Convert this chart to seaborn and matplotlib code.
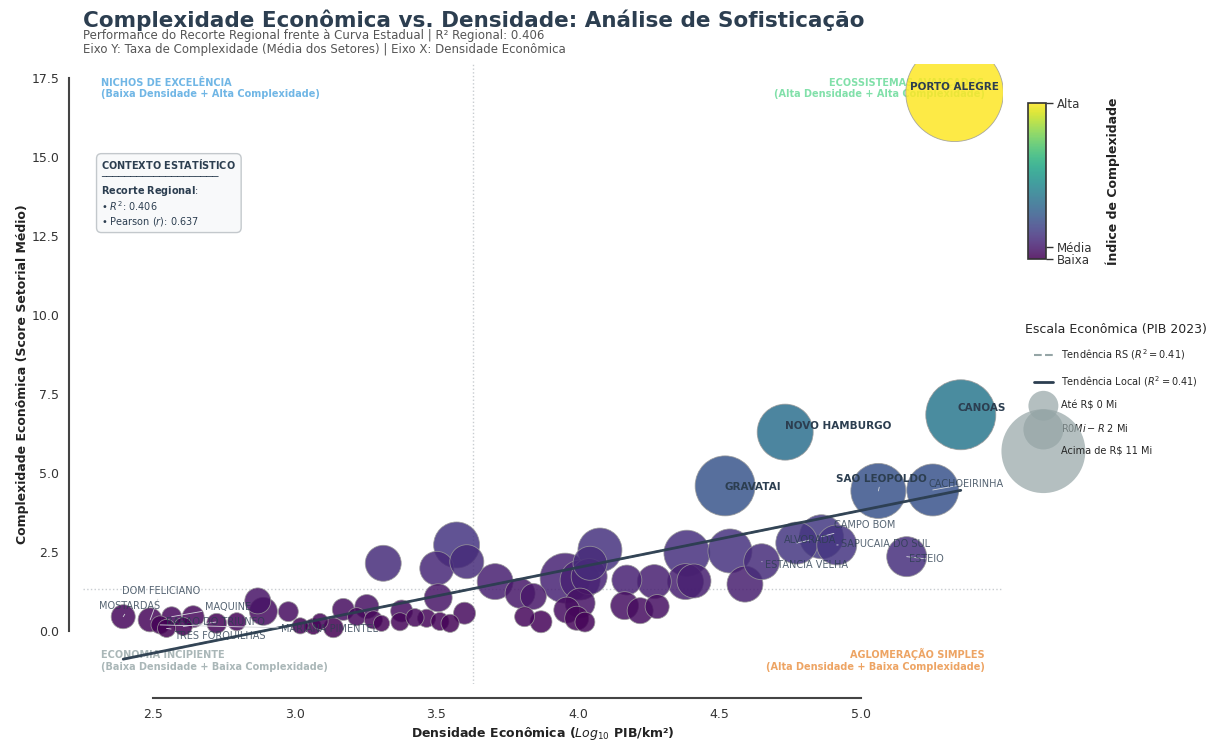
import numpy as np
import pandas as pd
import matplotlib
matplotlib.use("Agg")
import matplotlib.pyplot as plt
import seaborn as sns
from matplotlib.lines import Line2D
from matplotlib.colors import Normalize
import matplotlib.cm as cm

# ---------------- data ----------------
municipios = [
    "MOSTARDAS", "DOM FELICIANO", "MARIANA PIMENTEL", "MAQUINE", "TRES FORQUILHAS", "", "BARAO DO TRIUNFO",
    "", "", "", "", "", "", "", "", "", "", "", "", "", "", "", "", "", "", "", "", "", "", "", "", "", "",
    "", "", "", "", "", "", "", "", "", "", "", "", "", "", "", "", "", "", "", "", "", "", "", "",
    "ESTANCIA VELHA", "ALVORADA", "CAMPO BOM", "SAPUCAIA DO SUL", "ESTEIO",
    "GRAVATAI", "NOVO HAMBURGO", "SAO LEOPOLDO", "CACHOEIRINHA", "CANOAS", "PORTO ALEGRE",
]
densidade = [
    2.395, 2.490, 2.525, 2.566, 2.548, 2.642, 2.607,
    2.725, 2.796, 2.870, 2.890, 2.978, 3.020, 3.090, 3.066, 3.137, 3.172, 3.255, 3.219, 3.278, 3.307, 3.313,
    3.378, 3.372, 3.425, 3.466, 3.507, 3.502, 3.572, 3.608, 3.513, 3.549, 3.600,
    3.708, 3.796, 3.843, 3.812, 3.870, 3.955, 4.078, 4.008, 4.043, 4.008, 3.961, 3.996, 4.025, 4.040,
    4.173, 4.165, 4.220, 4.280, 4.270, 4.385, 4.380, 4.410, 4.537, 4.590,
    4.649, 4.773, 4.860, 4.914, 5.161,
    4.520, 4.732, 5.061, 5.253, 5.352, 5.330,
]
complexidade = [
    0.45, 0.35, 0.19, 0.45, 0.08, 0.45, 0.14,
    0.24, 0.29, 0.95, 0.62, 0.61, 0.16, 0.30, 0.14, 0.10, 0.68, 0.77, 0.45, 0.35, 0.24, 2.14,
    0.63, 0.29, 0.42, 0.40, 1.05, 1.98, 2.72, 2.19, 0.30, 0.24, 0.56,
    1.56, 1.19, 1.09, 0.45, 0.29, 1.67, 2.56, 1.61, 2.14, 0.88, 0.66, 0.40, 0.28, 1.72,
    1.61, 0.80, 0.64, 0.77, 1.56, 2.46, 1.56, 1.58, 2.53, 1.48,
    2.19, 2.78, 2.98, 2.72, 2.35,
    4.59, 6.29, 4.43, 4.46, 6.84, 17.03,
]
pib = [
    6.0, 6.0, 3.4, 4.1, 3.4, 5.0, 3.4,
    4.1, 3.4, 7.0, 8.1, 4.1, 2.7, 2.7, 2.7, 4.1, 5.0, 6.0, 3.4, 3.4, 2.7, 13.4,
    5.0, 3.4, 3.4, 3.4, 8.1, 12.0, 21.9, 12.0, 3.4, 3.4, 5.0,
    13.4, 9.3, 7.0, 4.1, 5.0, 25.9, 20.1, 16.6, 12.0, 9.3, 7.0, 6.0, 4.1, 13.4,
    9.3, 8.1, 7.0, 6.0, 12.0, 21.9, 13.4, 12.0, 20.1, 13.4,
    13.4, 18.3, 20.1, 16.6, 16.6,
    37.3, 32.5, 31.4, 28.0, 50.8, 98.7,
]
bold_labels = ["PORTO ALEGRE", "CANOAS", "NOVO HAMBURGO", "GRAVATAI", "SAO LEOPOLDO"]
no_connector = ["PORTO ALEGRE", "CANOAS", "NOVO HAMBURGO", "GRAVATAI"]

tendencia_local = (1.807, -5.222)   # slope, intercept
tendencia_rs = (1.807, -5.222)
r2_regional = 0.406
pearson_r = 0.637
ref_densidade = 3.63
ref_complexidade = 1.33

legend_pib = [9.3, 16.6, 73.0]
legend_labels = ["Até R$ 0 Mi", "R$0 Mi - R$ 2 Mi", "Acima de R$ 11 Mi"]

# label placement (text anchor positions, data coords)
label_pos = {
    "PORTO ALEGRE": (5.329, 17.21), "CANOAS": (5.424, 7.06), "NOVO HAMBURGO": (4.919, 6.49),
    "GRAVATAI": (4.619, 4.56), "SAO LEOPOLDO": (5.071, 4.81), "CACHOEIRINHA": (5.371, 4.65),
    "CAMPO BOM": (5.011, 3.35), "ALVORADA": (4.820, 2.88), "SAPUCAIA DO SUL": (5.088, 2.75),
    "ESTEIO": (5.229, 2.28), "ESTANCIA VELHA": (4.809, 2.09), "DOM FELICIANO": (2.528, 1.27),
    "MOSTARDAS": (2.419, 0.79), "MAQUINE": (2.765, 0.76), "BARAO DO TRIUNFO": (2.722, 0.28),
    "TRES FORQUILHAS": (2.737, -0.16), "MARIANA PIMENTEL": (3.125, 0.06),
}

# ---------------- figure ----------------
sns.set_theme(style="white")
plt.rcParams["font.family"] = ["DejaVu Sans"]

DARK = "#2c3e50"
W, H = 1219, 742
fig = plt.figure(figsize=(W / 100, H / 100), dpi=100)
ax = fig.add_axes([83 / W, 1 - 684 / H, 920 / W, 620 / H])

df = pd.DataFrame({"nome": municipios, "dens": densidade, "comp": complexidade, "pib": pib})
df = df.sort_values("pib", ascending=False)

vmin, vmax = min(complexidade), max(complexidade)
norm = Normalize(vmin=vmin, vmax=vmax)

sns.scatterplot(data=df, x="dens", y="comp", hue="comp", palette="viridis", hue_norm=norm,
                size="pib", sizes=(0, 5000), size_norm=(0, 100), alpha=0.85,
                edgecolor="#9a9a9a", linewidth=0.6, legend=False, ax=ax, zorder=3)

# reference lines
ax.axvline(ref_densidade, color="#c8ccd0", ls=":", lw=1, zorder=1)
ax.axhline(ref_complexidade, color="#c8ccd0", ls=":", lw=1, zorder=1)

# trend lines
tx = np.array([min(densidade), max(densidade)])
ax.plot(tx, tendencia_rs[0] * tx + tendencia_rs[1], ls="--", color="#95a5a6", lw=1.5, zorder=2)
ax.plot(tx, tendencia_local[0] * tx + tendencia_local[1], color=DARK, lw=2, alpha=0.95, zorder=4)

ax.set_xlim(2.253, 5.501)
ax.set_ylim(-1.68, 17.94)
ax.set_xticks(np.arange(2.5, 5.01, 0.5))
ax.set_yticks(np.arange(0, 17.6, 2.5))
sns.despine(ax=ax, offset=10, trim=True)
for s in ["left", "bottom"]:
    ax.spines[s].set_color("#444444")
    ax.spines[s].set_linewidth(1.5)
ax.tick_params(axis="both", labelsize=9, labelcolor="#333333", length=0, pad=7)

ax.set_xlabel("Densidade Econômica ($Log_{10}$ PIB/km²)", fontsize=9, fontweight="bold",
              color="#222222", labelpad=3)
ax.set_ylabel("Complexidade Econômica (Score Setorial Médio)", fontsize=9, fontweight="bold",
              color="#222222", labelpad=2)

# point labels
lookup = {n: (x, y) for n, x, y in zip(municipios, densidade, complexidade) if n}
for nome, (lx, ly) in label_pos.items():
    px, py = lookup[nome]
    bold = nome in bold_labels
    arrow = None if nome in no_connector else dict(arrowstyle="-", color="#d5d8dc", lw=0.6,
                                                   shrinkA=0, shrinkB=0)
    ax.annotate(nome, xy=(px, py), xytext=(lx, ly), ha="center", va="center",
                fontsize=7.5 if bold else 7, fontweight="bold" if bold else "normal",
                color=DARK, alpha=1 if bold else 0.8, zorder=6, arrowprops=arrow)

# quadrant labels
qkw = dict(transform=ax.transAxes, fontsize=7, fontweight="bold", zorder=2)
ax.text(0.02, 0.978, "NICHOS DE EXCELÊNCIA\n(Baixa Densidade + Alta Complexidade)",
        ha="left", va="top", color="#3498db", alpha=0.7, **qkw)
ax.text(0.98, 0.978, "ECOSSISTEMAS AVANÇADOS\n(Alta Densidade + Alta Complexidade)",
        ha="right", va="top", color="#2ecc71", alpha=0.6, **qkw)
ax.text(0.02, 0.02, "ECONOMIA INCIPIENTE\n(Baixa Densidade + Baixa Complexidade)",
        ha="left", va="bottom", color="#95a5a6", alpha=0.8, **qkw)
ax.text(0.98, 0.02, "AGLOMERAÇÃO SIMPLES\n(Alta Densidade + Baixa Complexidade)",
        ha="right", va="bottom", color="#e67e22", alpha=0.7, **qkw)

# stats box
stats = ("$\\mathbf{CONTEXTO\\ ESTATÍSTICO}$\n" + "─" * 20 + "\n"
         "$\\mathbf{Recorte\\ Regional}$:\n"
         f"• $R^2$: {r2_regional:.3f}\n"
         f"• Pearson ($r$): {pearson_r:.3f}")
ax.text(0.02, 0.85, stats, transform=ax.transAxes, ha="left", va="top", fontsize=7,
        color=DARK, linespacing=1.15, zorder=7,
        bbox=dict(boxstyle="round,pad=0.5", facecolor="#f8f9fa", edgecolor="#bdc3c7", alpha=0.9))

# titles
fig.text(83 / W, 1 - 20 / H, "Complexidade Econômica vs. Densidade: Análise de Sofisticação",
         fontsize=15.5, fontweight="bold", color=DARK, ha="left", va="center")
fig.text(83 / W, 1 - 35 / H, "Performance do Recorte Regional frente à Curva Estadual | R² Regional: 0.406",
         fontsize=8.5, color="#555555", ha="left", va="center")
fig.text(83 / W, 1 - 50 / H, "Eixo Y: Taxa de Complexidade (Média dos Setores) | Eixo X: Densidade Econômica",
         fontsize=8.5, color="#555555", ha="left", va="center")

# colorbar
cax = fig.add_axes([1028 / W, 1 - 259 / H, 18 / W, 156 / H])
sm = cm.ScalarMappable(norm=norm, cmap="viridis")
cb = fig.colorbar(sm, cax=cax)
cb.solids.set_alpha(0.85)
cb.set_ticks([vmin, ref_complexidade, vmax])
cb.set_ticklabels(["Baixa", "Média", "Alta"])
cb.outline.set_edgecolor("#333333")
cb.outline.set_linewidth(1.2)
cax.tick_params(right=True, length=5, width=1, color="#333333", labelsize=8.5, labelcolor="#333333", pad=3)
cb.set_label("Índice de Complexidade", fontsize=9, fontweight="bold", color="#222222", labelpad=9)

# legend
handles = [Line2D([0], [0], color="#95a5a6", ls="--", lw=1.5),
           Line2D([0], [0], color=DARK, lw=2)]
labels = [f"Tendência RS ($R^2 = {r2_regional:.2f}$)", f"Tendência Local ($R^2 = {r2_regional:.2f}$)"]
for p, lab in zip(legend_pib, legend_labels):
    handles.append(ax.scatter([], [], s=p * 50, color="#95a5a6", alpha=0.7, edgecolor="none"))
    labels.append(lab)
leg = fig.legend(handles, labels, loc="upper left", bbox_to_anchor=(1016 / W, 1 - 314 / H),
                 frameon=False, fontsize=7, title="Escala Econômica (PIB 2023)", title_fontsize=9,
                 labelspacing=1.2, handlelength=2.0, handletextpad=0.8)

fig.savefig("out.png", dpi=100)
